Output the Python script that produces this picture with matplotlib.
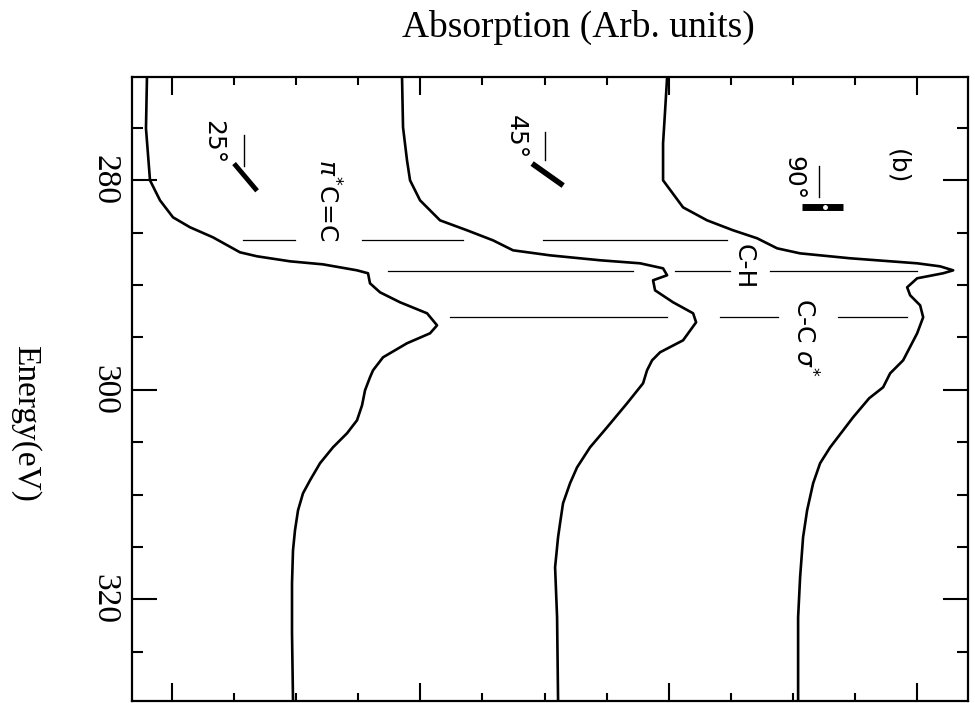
import matplotlib
matplotlib.use("Agg")
import matplotlib.pyplot as plt
import numpy as np

# NEXAFS carbon K-edge spectra at three incidence angles (energy runs downwards)
energy_25 = [270.17, 275.04, 280.0, 280.95, 281.91, 283.53, 284.48, 285.44, 286.87, 287.25,
             287.73, 288.02, 288.59, 288.87, 289.83, 290.69, 291.64, 292.69, 293.84, 294.60,
             295.55, 296.89, 298.13, 298.80, 300.04, 301.47, 302.90, 304.14, 305.48, 307.00,
             308.63, 309.87, 311.49, 313.40, 315.31, 318.45, 323.23, 329.62]
absorb_25 = [0.597, 0.581, 0.646, 0.726, 0.807, 1.016, 1.290, 1.660, 2.095, 2.369,
             2.901, 3.432, 3.980, 4.157, 4.189, 4.351, 4.673, 5.108, 5.269, 5.156,
             4.785, 4.399, 4.238, 4.189, 4.109, 4.061, 3.980, 3.819, 3.593, 3.384,
             3.223, 3.110, 3.030, 2.981, 2.949, 2.933, 2.933, 2.949]

energy_45 = [270.17, 274.94, 278.09, 280.0, 281.91, 283.82, 284.77, 285.73, 286.68, 287.16,
             287.63, 287.92, 288.40, 289.06, 289.54, 290.50, 291.64, 292.69, 293.55, 295.27,
             296.41, 297.18, 298.13, 299.37, 301.28, 303.57, 305.48, 307.39, 308.91, 310.82,
             312.73, 314.06, 316.93, 321.70, 329.62]
absorb_45 = [4.705, 4.721, 4.785, 4.834, 4.995, 5.317, 5.752, 6.171, 6.493, 7.089,
             7.894, 8.539, 8.909, 8.974, 8.748, 8.780, 9.070, 9.393, 9.441, 9.231,
             8.861, 8.732, 8.651, 8.587, 8.329, 8.007, 7.733, 7.524, 7.411, 7.298,
             7.250, 7.218, 7.170, 7.202, 7.218]

energy_90 = [270.17, 273.32, 276.47, 280.0, 282.58, 283.82, 284.77, 285.53, 286.49, 286.97,
             287.44, 287.92, 288.21, 288.59, 288.87, 289.35, 290.21, 290.97, 291.93, 293.07,
             294.60, 297.18, 298.42, 299.75, 300.80, 302.61, 305.48, 307.00, 308.91, 311.49,
             314.06, 317.88, 321.70, 329.62]
absorb_90 = [8.974, 8.942, 8.909, 8.909, 9.231, 9.618, 10.037, 10.423, 10.746, 11.116,
             11.921, 13.001, 13.371, 13.581, 13.420, 13.001, 12.840, 12.888, 13.049, 13.098,
             13.001, 12.775, 12.566, 12.453, 12.228, 11.970, 11.600, 11.438, 11.326, 11.229,
             11.164, 11.116, 11.084, 11.084]

# Resonance marker lines: energy and the absorption spans of their broken pieces
resonance_energy = [285.67, 288.67, 293.05]
resonance_spans = [
    [(2.144, 2.981), (4.061, 5.688), (6.976, 9.940)],
    [(4.479, 8.426), (9.103, 9.988), (10.633, 13.001)],
    [(5.478, 8.974), (9.827, 10.762), (11.728, 12.840)],
]

energy_ticks = [280, 300, 320]
energy_minor = [275, 285, 290, 295, 305, 310, 315, 325]
absorb_major = [1, 5, 9, 13]
absorb_minor = [2, 3, 4, 6, 7, 8, 10, 11, 12]

W, H = 975, 703
fig = plt.figure(figsize=(W / 100, H / 100), dpi=100)
ax = fig.add_axes([132 / W, 1 - 701 / H, (968 - 132) / W, (701 - 77) / H])

ax.set_xlim(0.356, 13.82)
ax.set_ylim(329.69, 270.14)

for e, a in [(energy_25, absorb_25), (energy_45, absorb_45), (energy_90, absorb_90)]:
    ax.plot(a, e, color="black", lw=1.9, solid_joinstyle="round", solid_capstyle="round")

for e, spans in zip(resonance_energy, resonance_spans):
    for a0, a1 in spans:
        ax.plot([a0, a1], [e, e], color="black", lw=0.9)

hand = dict(family="DejaVu Sans", fontsize=18, rotation=-90, ha="center", va="center",
            color="black")
ax.text(1.66, 276.4, "25°", **hand)
ax.text(6.53, 275.9, "45°", **hand)
ax.text(11.0, 279.8, "90°", **hand)
ax.text(12.68, 278.7, "(b)", **hand)
ax.text(3.50, 281.9, r"$\pi^{*}$C=C", **hand)
ax.text(10.21, 288.2, "C-H", **hand)
ax.text(11.18, 295.0, r"C-C $\sigma^{*}$", **hand)

# orientation pictograms: field direction (thin) and molecular axis (thick)
ax.plot([2.16, 2.16], [275.7, 278.6], color="black", lw=1.0)
ax.plot([2.0, 2.37], [278.4, 281.0], color="black", lw=3.5, solid_capstyle="butt")
ax.plot([7.01, 7.01], [275.4, 278.1], color="black", lw=1.0)
ax.plot([6.80, 7.30], [278.4, 280.5], color="black", lw=4.0, solid_capstyle="butt")
ax.plot([11.42, 11.42], [278.6, 281.6], color="black", lw=1.0)
ax.plot([11.15, 11.81], [282.5, 282.5], color="black", lw=5.0, solid_capstyle="butt")
ax.plot([11.52], [282.5], "o", color="white", ms=2.5)

ax.set_yticks(energy_ticks)
ax.set_yticks(energy_minor, minor=True)
ax.set_xticks(absorb_major)
ax.set_xticks(absorb_minor, minor=True)
ax.set_yticklabels([str(v) for v in energy_ticks], rotation=-90, va="center",
                   family="Liberation Serif", fontsize=24)
ax.tick_params(which="both", direction="in", top=True, bottom=True, left=True, right=True,
               labelbottom=False, width=1.5, color="black")
ax.tick_params(axis="y", which="major", length=18, pad=9)
ax.tick_params(axis="y", which="minor", length=8)
ax.tick_params(axis="x", which="major", length=13)
ax.tick_params(axis="x", which="minor", length=6)
for s in ax.spines.values():
    s.set_linewidth(1.6)

fig.text(578 / W, 1 - 27 / H, "Absorption (Arb. units)", ha="center", va="center",
         family="Liberation Serif", fontsize=27)
fig.text(25 / W, 1 - 423 / H, "Energy(eV)", ha="center", va="center", rotation=-90,
         family="Liberation Serif", fontsize=24)

fig.savefig("out.png", dpi=100)
